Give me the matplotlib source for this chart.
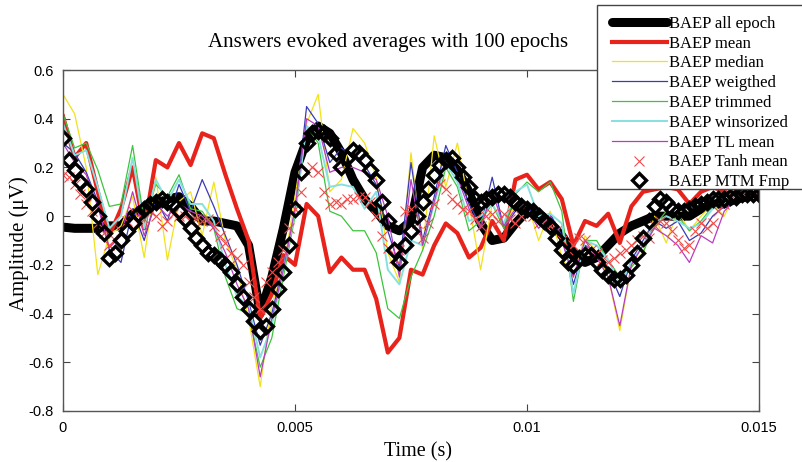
import numpy as np
import matplotlib
matplotlib.use('Agg')
import matplotlib.pyplot as plt
from matplotlib.patches import Rectangle

# time grids (s): coarse one for the lines, finer one for the marker series
t_line = np.arange(61) * 0.00025
t_mark = np.arange(121) * 0.000125

all_epoch = [-0.045, -0.05, -0.05, -0.05, -0.04, -0.04, 0.01, 0.03, 0.05, 0.07,
             0.08, 0.04, -0.02, -0.02, -0.03, -0.04, -0.12, -0.40, -0.25, -0.05,
             0.18, 0.31, 0.37, 0.34, 0.26, 0.15, 0.07, 0.02, -0.04, -0.06,
             -0.02, 0.20, 0.25, 0.24, 0.19, 0.10, -0.03, -0.10, -0.09, -0.03,
             0.02, 0.01, -0.03, -0.08, -0.15, -0.19, -0.17, -0.12, -0.07, -0.04,
             -0.02, 0.0, 0.0, 0.0, 0.0, 0.03, 0.05, 0.05, 0.07, 0.08, 0.09]
mean = [0.41, 0.24, 0.30, 0.10, -0.08, 0.03, 0.20, -0.05, 0.23, 0.20,
        0.30, 0.21, 0.34, 0.32, 0.17, 0.03, -0.10, -0.42, -0.32, -0.16,
        -0.20, 0.05, 0.0, -0.23, -0.17, -0.22, -0.22, -0.34, -0.56, -0.50,
        -0.22, -0.24, -0.12, -0.03, -0.07, -0.17, -0.13, -0.02, -0.10, 0.15,
        0.17, 0.11, 0.14, 0.07, -0.12, -0.02, -0.04, 0.01, -0.11, 0.04,
        0.10, 0.11, 0.12, 0.11, 0.05, 0.10, 0.12, 0.10, 0.08, 0.09, 0.10]
median = [0.50, 0.42, 0.20, -0.24, -0.08, -0.04, 0.08, -0.17, 0.16, -0.18,
          0.06, 0.10, -0.08, 0.14, -0.10, -0.22, -0.42, -0.70, -0.36, -0.22,
          0.08, 0.38, 0.50, 0.10, 0.15, 0.36, 0.30, 0.16, -0.15, -0.27,
          0.26, -0.14, 0.33, 0.12, 0.30, 0.05, -0.22, 0.05, -0.05, 0.05,
          0.06, -0.10, 0.02, -0.17, -0.25, -0.08, -0.15, -0.25, -0.47, -0.20,
          -0.15, 0.0, -0.11, 0.02, -0.06, 0.0, 0.05, 0.0, 0.10, 0.06, 0.08]
weighted = [0.30, 0.26, 0.18, 0.06, -0.14, -0.19, 0.03, -0.10, 0.07, -0.02,
            0.13, 0.02, 0.15, 0.04, -0.08, -0.20, -0.35, -0.53, -0.40, -0.20,
            0.02, 0.45, 0.38, 0.22, 0.28, 0.24, 0.21, 0.13, -0.06, -0.21,
            0.22, -0.10, 0.08, 0.29, 0.18, 0.05, -0.04, 0.16, -0.05, 0.02,
            0.05, -0.03, 0.01, -0.08, -0.28, -0.12, -0.15, -0.22, -0.33, -0.18,
            -0.10, -0.02, -0.05, -0.02, -0.10, -0.07, 0.0, 0.04, 0.08, 0.10, 0.10]
trimmed = [0.42, 0.28, 0.30, 0.19, 0.04, 0.05, 0.29, -0.02, 0.13, 0.08,
           0.17, 0.03, 0.02, -0.05, -0.25, -0.38, -0.40, -0.62, -0.50, -0.25,
           0.0, 0.37, 0.30, 0.02, 0.0, -0.06, -0.06, -0.15, -0.38, -0.42,
           -0.25, -0.14, 0.0, 0.20, 0.12, -0.06, -0.02, 0.05, -0.05, 0.09,
           0.14, 0.10, 0.14, 0.02, -0.35, -0.10, -0.10, -0.18, -0.25, -0.21,
           -0.15, -0.04, 0.02, 0.0, -0.06, -0.02, 0.04, 0.06, 0.10, 0.12, 0.12]
winsorized = [0.38, 0.25, 0.27, 0.12, -0.05, 0.0, 0.24, -0.05, 0.15, 0.06,
              0.15, 0.05, 0.05, -0.02, -0.20, -0.33, -0.37, -0.58, -0.45, -0.22,
              0.02, 0.37, 0.33, 0.12, 0.13, 0.12, 0.03, 0.10, -0.22, -0.28,
              -0.10, -0.12, 0.05, 0.22, 0.14, -0.02, 0.0, 0.05, -0.03, 0.10,
              0.13, 0.0, 0.01, -0.03, -0.32, -0.10, -0.12, -0.18, -0.28, -0.19,
              -0.12, -0.03, 0.0, -0.02, -0.05, -0.03, 0.03, 0.05, 0.08, 0.10, 0.11]
tl_mean = [0.30, 0.22, 0.17, 0.04, -0.13, -0.08, 0.10, -0.08, 0.05, 0.0,
           0.05, 0.02, 0.0, -0.05, -0.15, -0.28, -0.38, -0.66, -0.42, -0.22,
           0.03, 0.40, 0.37, 0.18, 0.20, 0.20, 0.18, 0.15, 0.0, -0.25,
           0.15, -0.12, 0.06, 0.24, 0.16, 0.03, -0.05, 0.10, -0.04, 0.03,
           0.03, -0.05, 0.0, -0.10, -0.25, -0.10, -0.17, -0.25, -0.45, -0.20,
           -0.12, -0.05, -0.08, -0.12, -0.19, -0.08, -0.11, 0.02, 0.07, 0.10, 0.10]
tanh_mean = [0.17, 0.16, 0.13, 0.09, 0.05, 0.02, -0.03, -0.07, -0.12, -0.10,
             -0.06, -0.02, 0.02, -0.03, -0.01, 0.02, 0.0, -0.04, -0.02, 0.01,
             0.0, 0.0, -0.02, -0.01, -0.02, -0.01, -0.04, -0.08, -0.11, -0.15,
             -0.17, -0.20, -0.27, -0.33, -0.38, -0.27, -0.23, -0.19, -0.14, -0.05,
             0.03, 0.10, 0.18, 0.20, 0.18, 0.10, 0.05, 0.06, 0.05, 0.07,
             0.07, 0.08, 0.08, 0.06, 0.0, -0.08, -0.13, -0.17, -0.14, 0.02,
             0.03, -0.03, -0.09, -0.03, 0.05, 0.13, 0.11, 0.07, 0.05, 0.03,
             0.02, -0.01, -0.04, 0.0, 0.01, -0.02, 0.01, -0.01, -0.03, 0.0,
             0.02, 0.0, -0.03, -0.02, -0.04, -0.06, -0.10, -0.14, -0.12, -0.09,
             -0.10, -0.14, -0.15, -0.18, -0.19, -0.17, -0.15, -0.14, -0.12, -0.10,
             -0.08, -0.09, -0.04, -0.02, -0.03, -0.06, -0.10, -0.13, -0.12, -0.06,
             -0.03, -0.05, -0.03, 0.02, 0.05, 0.09, 0.10, 0.10, 0.10, 0.09, 0.09]
mtm_fmp = [0.32, 0.23, 0.19, 0.14, 0.11, 0.06, 0.0, -0.07, -0.17, -0.15,
           -0.10, -0.06, -0.03, 0.01, 0.03, 0.05, 0.06, 0.07, 0.06, 0.05,
           0.02, -0.01, -0.05, -0.09, -0.12, -0.15, -0.16, -0.18, -0.20, -0.23,
           -0.28, -0.33, -0.38, -0.43, -0.47, -0.45, -0.38, -0.30, -0.23, -0.12,
           0.03, 0.18, 0.30, 0.34, 0.35, 0.34, 0.32, 0.26, 0.20, 0.24,
           0.27, 0.26, 0.23, 0.19, 0.15, 0.06, -0.02, -0.14, -0.19, -0.12,
           -0.06, 0.0, 0.06, 0.11, 0.17, 0.21, 0.23, 0.24, 0.20, 0.16,
           0.12, 0.07, 0.06, 0.07, 0.08, 0.09, 0.09, 0.08, 0.06, 0.04,
           0.03, 0.02, 0.0, -0.02, -0.04, -0.09, -0.14, -0.19, -0.20, -0.17,
           -0.16, -0.16, -0.19, -0.22, -0.24, -0.26, -0.26, -0.24, -0.20, -0.15,
           -0.09, -0.02, 0.04, 0.07, 0.06, 0.03, 0.02, 0.02, 0.03, 0.04,
           0.05, 0.06, 0.07, 0.07, 0.07, 0.08, 0.08, 0.09, 0.09, 0.09, 0.09]

serif = 'Liberation Serif'
sans = 'Liberation Sans'

fig = plt.figure(figsize=(8.03, 4.62), dpi=100)
ax = fig.add_axes([63/803, 1-411/462, 696/803, 341/462])

h = []
h += ax.plot(t_line, all_epoch, color='black', lw=6.5, solid_capstyle='round', label='BAEP all epoch')
h += ax.plot(t_line, mean, color='#e8231c', lw=3, label='BAEP mean')
h += ax.plot(t_line, median, color='#f2e21a', lw=0.9, label='BAEP median')
h += ax.plot(t_line, weighted, color='#3a3ab8', lw=0.9, label='BAEP weigthed')
h += ax.plot(t_line, trimmed, color='#3cc43c', lw=0.9, label='BAEP trimmed')
h += ax.plot(t_line, winsorized, color='#86e0e0', lw=1.4, label='BAEP winsorized')
h += ax.plot(t_line, tl_mean, color='#b83cc0', lw=0.9, label='BAEP TL mean')
h += ax.plot(t_mark, tanh_mean, ls='none', marker='x', ms=6.5, mew=0.8, color='#f04a4a',
             label='BAEP Tanh mean')
h += ax.plot(t_mark, mtm_fmp, ls='none', marker='D', ms=7, mew=2.4, mfc='none', mec='black',
             label='BAEP MTM Fmp')

ax.set_xlim(0, 0.015)
ax.set_ylim(-0.8, 0.6)
ax.set_xticks([0, 0.005, 0.01, 0.015])
ax.set_xticklabels(['0', '0.005', '0.01', '0.015'])
ax.set_yticks([-0.8, -0.6, -0.4, -0.2, 0, 0.2, 0.4, 0.6])
ax.set_yticklabels(['-0.8', '-0.6', '-0.4', '-0.2', '0', '0.2', '0.4', '0.6'])
ax.tick_params(direction='in', length=5, width=0.8, color='#444444',
               top=True, right=True, labelsize=10.5, pad=7)
for lab in ax.get_xticklabels() + ax.get_yticklabels():
    lab.set_family(sans)
for s in ax.spines.values():
    s.set_color('#555555')
    s.set_linewidth(1.0)

fig.text(388/803, 1-43/462, 'Answers evoked averages with 100 epochs', family=serif,
         fontsize=15, ha='center', va='center')
fig.text(418/803, 1-452/462, 'Time (s)', family=serif, fontsize=14.5, ha='center', va='center')
fig.text(19/803, 1-244/462, 'Amplitude (μV)', family=serif, fontsize=15, ha='center',
         va='center', rotation=90)

# legend box (runs past the right edge of the figure, as in the original)
fig.patches.append(Rectangle((597/803, 1-189/462), 230/803, 184/462, transform=fig.transFigure,
                             facecolor='white', edgecolor='#444444', lw=1.0, zorder=4))
fig.legend(handles=h, loc='upper left', bbox_to_anchor=(600/803, 1-4/462), frameon=False,
           prop={'family': serif, 'size': 12}, handlelength=3.3, handletextpad=0.12,
           labelspacing=0.23, borderpad=0.2)

fig.savefig('out.png', dpi=100)
